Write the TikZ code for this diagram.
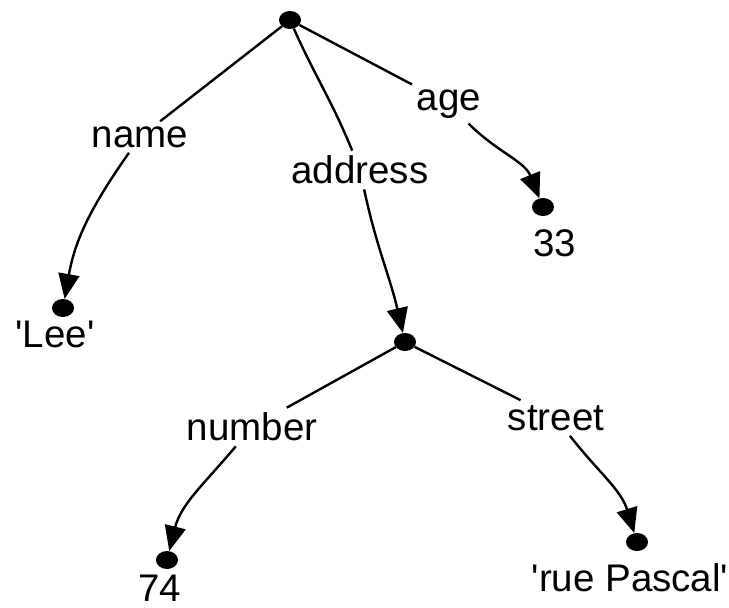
\documentclass[tikz,border=0pt]{standalone}
\usepackage{fontspec}
\setmainfont{Liberation Sans}
\usetikzlibrary{arrows.meta,shapes.geometric}

\begin{document}
\begin{tikzpicture}[x=1pt, y=1pt,
    dot/.style={ellipse, fill=black, inner sep=0pt, minimum width=22pt, minimum height=18pt},
    key/.style={inner sep=5pt, font=\fontsize{38.5}{44}\selectfont},
    val/.style={inner sep=0pt, font=\fontsize{38.5}{44}\selectfont},
    link/.style={line width=2.4pt},
    arc/.style={line width=2.4pt, -{Triangle[length=25pt,width=21pt]}}]
\useasboundingbox (0,0) rectangle (729,-608);
% the dots
\foreach \n/\x/\y in {root/290/20, lee/63/308, age/543/207, ad/405/342, num/167/560, str/637/542} {
    \node[dot] (\n) at (\x,-\y) {};
}
% keys on the edges
\node[key] (kname) at (140,-137) {name};
\node[key] (kaddr) at (360,-170) {address};
\node[key] (kage) at (449,-104) {age};
\node[key] (knum) at (252,-427) {number};
\node[key] (kstr) at (556,-418) {street};
% values
\node[val] (vlee) at (55,-334) {\textquotesingle Lee\textquotesingle};
\node[val] (vage) at (555,-243) {33};
\node[val] (vnum) at (160,-588) {74};
\node[val] (vstr) at (630,-578) {\textquotesingle rue Pascal\textquotesingle};
% edges from root
\draw[link] (root) -- (kname);
\draw[arc] (kname) to[out=-125, in=80] (lee);
\draw[link] (root) to[out=-66, in=112] (kaddr);
\draw[arc] (kaddr) to[out=-78, in=103] (ad);
\draw[link] (root) -- (kage);
\draw[arc] (kage) to[out=-45, in=112] (age);
% edges from address
\draw[link] (ad) -- (knum);
\draw[arc] (knum) to[out=-130, in=76] (num);
\draw[link] (ad) -- (kstr);
\draw[arc] (kstr) to[out=-52, in=107] (str);
\end{tikzpicture}
\end{document}
